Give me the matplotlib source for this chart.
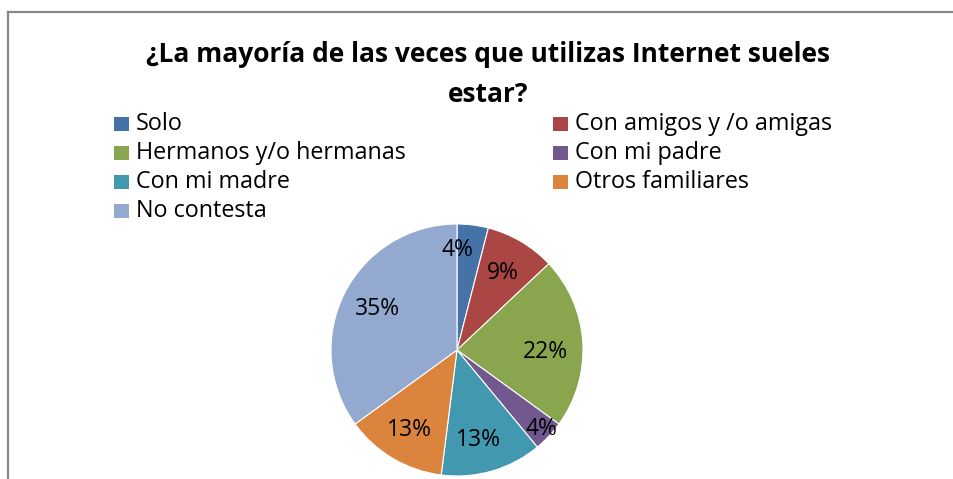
import matplotlib
matplotlib.use("Agg")
import matplotlib.pyplot as plt
from matplotlib.lines import Line2D
from matplotlib.patches import Rectangle
import numpy as np

categories = ["Solo", "Con amigos y /o amigas", "Hermanos y/o hermanas",
              "Con mi padre", "Con mi madre", "Otros familiares", "No contesta"]
values = [4, 9, 22, 4, 13, 13, 35]
labels_pct = ["4%", "9%", "22%", "4%", "13%", "13%", "35%"]
colors = ["#4572A7", "#AA4643", "#89A54E", "#71588F", "#4198AF", "#DB843D", "#93A9CF"]
label_dist = [0.79, 0.71, 0.70, 0.92, 0.73, 0.74, 0.71]
label_shift_deg = [-7, 0, 5, 0, 3, 0, 0]

W, H = 954, 479
fig = plt.figure(figsize=(W / 100, H / 100), dpi=100)
fig.patch.set_facecolor("white")

font = "Open Sans"

# border
fig.add_artist(Line2D([8 / W, 8 / W], [0, 1 - 12 / H], color="#888888", lw=1.6))
fig.add_artist(Line2D([8 / W, 1.0], [1 - 12 / H, 1 - 12 / H], color="#888888", lw=1.6))

# title
fig.text(488 / W, 1 - 55 / H, "¿La mayoría de las veces que utilizas Internet sueles",
         ha="center", va="center", fontsize=19, fontweight="bold", family=font)
fig.text(488 / W, 1 - 95 / H, "estar?",
         ha="center", va="center", fontsize=19, fontweight="bold", family=font)

# legend
col_x = [114, 553]
row_y = [124, 153, 182, 211]
for i, (cat, col) in enumerate(zip(categories, colors)):
    cx = col_x[i % 2]
    cy = row_y[i // 2]
    fig.add_artist(Rectangle((cx / W, 1 - (cy + 7) / H), 15 / W, 14 / H,
                             transform=fig.transFigure, facecolor=col, edgecolor="none"))
    fig.text((cx + 22) / W, 1 - cy / H, cat, ha="left", va="center",
             fontsize=16.8, family=font)

# pie
cx, cy, r = 457, 350, 126
ax = fig.add_axes([(cx - r) / W, (H - cy - r) / H, 2 * r / W, 2 * r / H])
wedges, _ = ax.pie(values, colors=colors, startangle=90, counterclock=False,
                   radius=1.0, wedgeprops=dict(edgecolor="white", linewidth=0.8))
ax.set_xlim(-1, 1)
ax.set_ylim(-1, 1)
ax.axis("off")

total = sum(values)
cum = 0
for v, lab, d, sh in zip(values, labels_pct, label_dist, label_shift_deg):
    mid = (cum + v / 2) / total * 360 + sh
    cum += v
    ang = np.deg2rad(90 - mid)
    ax.text(d * np.cos(ang), d * np.sin(ang), lab, ha="center", va="center",
            fontsize=16.5, family=font)

fig.savefig("out.png", dpi=100, facecolor="white")
